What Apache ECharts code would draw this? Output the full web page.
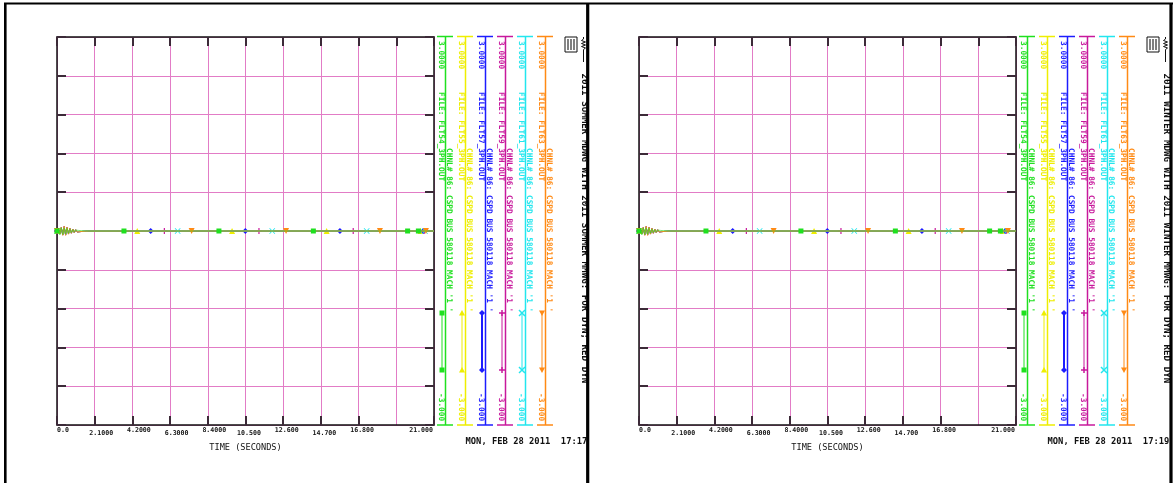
<!DOCTYPE html>
<html>
<head>
<meta charset="utf-8">
<script src="https://cdn.jsdelivr.net/npm/echarts@6/dist/echarts.min.js"></script>
<style>
html, body { margin: 0; padding: 0; background: #fff; }
#main { width: 1173px; height: 483px; }
</style>
</head>
<body>
<div id="main"></div>
<script>
// time axis (seconds): tick values and the printed labels
const timeTicks = [0, 2.1, 4.2, 6.3, 8.4, 10.5, 12.6, 14.7, 16.8, 18.9, 21];
const timeLabels = ['0.0', '2.1000', '4.2000', '6.3000', '8.4000', '10.500', '12.600', '14.700', '16.800', '18.900', '21.000'];
const chanMaxLabel = '3.0000';
const chanMinLabel = '-3.000';

// speed deviation just after the fault, sampled every 0.08 s
const oscTime = [0, 0.08, 0.16, 0.24, 0.32, 0.4, 0.48, 0.56, 0.64, 0.72, 0.8, 0.88, 0.96, 1.04, 1.12, 1.2, 1.28, 1.36, 1.44, 1.52, 1.6, 1.68, 1.76, 1.84];
const spd54 = [0, 0.045, -0.06, 0.05, -0.055, 0.048, -0.05, 0.042, -0.036, 0.03, -0.026, 0.021, -0.017, 0.014, -0.011, 0.009, -0.007, 0.005, -0.004, 0.003, -0.002, 0.001, -0.001, 0];
const spd55 = [0, 0.03, -0.045, 0.055, -0.06, 0.065, -0.06, 0.052, -0.045, 0.038, -0.032, 0.027, -0.022, 0.018, -0.015, 0.012, -0.009, 0.007, -0.005, 0.004, -0.003, 0.002, -0.001, 0];
const spd57 = [0, 0.032, -0.042, 0.052, -0.062, 0.068, -0.062, 0.055, -0.046, 0.04, -0.033, 0.028, -0.023, 0.019, -0.015, 0.012, -0.01, 0.008, -0.006, 0.004, -0.003, 0.002, -0.001, 0];
const spd59 = [0, 0.034, -0.044, 0.054, -0.064, 0.07, -0.064, 0.056, -0.047, 0.041, -0.034, 0.028, -0.023, 0.019, -0.016, 0.013, -0.01, 0.008, -0.006, 0.004, -0.003, 0.002, -0.001, 0];
const spd61 = [0, 0.028, -0.04, 0.05, -0.058, 0.064, -0.059, 0.051, -0.044, 0.037, -0.031, 0.026, -0.021, 0.017, -0.014, 0.011, -0.009, 0.007, -0.005, 0.004, -0.003, 0.002, -0.001, 0];
const spd63 = [0, 0.036, -0.046, 0.056, -0.066, 0.072, -0.066, 0.058, -0.049, 0.042, -0.035, 0.029, -0.024, 0.02, -0.016, 0.013, -0.01, 0.008, -0.006, 0.005, -0.003, 0.002, -0.001, 0];

// times where the plotter put a symbol on each curve (curve is flat at 0 there)
const mark54 = [0, 3.73, 9.02, 14.28, 19.53, 20.13];
const mark55 = [0, 4.47, 9.75, 15.02, 20.25];
const mark57 = [0, 5.22, 10.49, 15.76, 20.4];
const mark59 = [0, 5.98, 11.25, 16.5, 20.45];
const mark61 = [0, 6.72, 11.99, 17.25, 20.5];
const mark63 = [0, 7.5, 12.76, 17.99, 20.55];
const endTime = 21;

const files = ['FLT54_3PH.OUT', 'FLT55_3PH.OUT', 'FLT57_3PH.OUT', 'FLT59_3PH.OUT', 'FLT61_3PH.OUT', 'FLT63_3PH.OUT'];
const chnlText = "CHNL# 86: CSPD BUS 580118 MACH '1 '";
const titles = ['2011 SUMMER MDWG WITH 2011 SUMMER MMWG: FOR DYN; RED DYN',
                '2011 WINTER MDWG WITH 2011 WINTER MMWG: FOR DYN; RED DYN'];
const stamps = ['MON, FEB 28 2011  17:17', 'MON, FEB 28 2011  17:19'];

const chanVals = [spd54, spd55, spd57, spd59, spd61, spd63];
const chanMarks = [mark54, mark55, mark57, mark59, mark61, mark63];

// styles
const plusPath = 'path://M4,0h2v4h4v2h-4v4h-2v-4h-4v-2h4z';
const crossPath = 'path://M0,1L1,0L5,4L9,0L10,1L6,5L10,9L9,10L5,6L1,10L0,9L4,5z';
const chanStyle = [
    { color: '#1fe01f', symbol: 'rect', size: 5, rotate: 0, z: 9, lineOpacity: 0.6 },
    { color: '#eeee00', symbol: 'triangle', size: 6, rotate: 0, z: 3, lineOpacity: 1 },
    { color: '#1c1cff', symbol: 'diamond', size: 6, rotate: 0, z: 4, lineOpacity: 1 },
    { color: '#c8189c', symbol: plusPath, size: 6, rotate: 0, z: 5, lineOpacity: 1 },
    { color: '#22e6ee', symbol: crossPath, size: 6, rotate: 0, z: 6, lineOpacity: 1 },
    { color: '#ff8a14', symbol: 'triangle', size: 6, rotate: 180, z: 7, lineOpacity: 1 }
];
const mono = '"DejaVu Sans Mono", "Liberation Mono", monospace';
const gridColor = '#e27cc6';
const tickColor = '#3c2a38';
const panelLeft = [57, 639];
const panelDx = [0, 582];
const plotTop = 37, plotW = 377, plotH = 388;

let mainDiv = echarts.init(document.getElementById('main'));

function buildData(vals, marks, st) {
    let pts = oscTime.map((t, i) => ({ value: [t, vals[i]] }));
    let sym = { symbol: st.symbol, symbolSize: st.size, symbolRotate: st.rotate };
    marks.forEach(t => {
        if (t === 0) Object.assign(pts[0], sym);
        else pts.push(Object.assign({ value: [t, 0] }, sym));
    });
    pts.push({ value: [endTime, 0] });
    return pts;
}

let richBase = { fontFamily: mono, fontSize: 6.6, fontWeight: 'bold', color: '#111', lineHeight: 8 };
let rich = {
    f: Object.assign({}, richBase),
    l: Object.assign({ padding: [0, 1, 0, 0] }, richBase),
    e4: Object.assign({ padding: [0, 0, 0, 13] }, richBase),
    o4: Object.assign({ padding: [7, 0, 0, 13] }, richBase),
    e3: Object.assign({ padding: [0, 0, 0, 7] }, richBase),
    o3: Object.assign({ padding: [7, 0, 0, 7] }, richBase)
};

let grids = [], xAxes = [], yAxes = [], series = [];
panelLeft.forEach((left, pi) => {
    grids.push({ left: left, top: plotTop, width: plotW, height: plotH, containLabel: false });
    let line = { show: true, onZero: false, lineStyle: { color: '#111', width: 1.5 } };
    let tick = { show: true, inside: true, length: 9, lineStyle: { color: tickColor, width: 2 } };
    xAxes.push({
        type: 'value', gridIndex: pi, position: 'bottom', min: 0, max: 21, interval: 2.1,
        axisLine: line, axisTick: tick,
        splitLine: { show: true, lineStyle: { color: gridColor, width: 1 } },
        axisLabel: {
            show: true, margin: 1, showMinLabel: true, showMaxLabel: true,
            alignMinLabel: 'left', alignMaxLabel: 'right', rich: rich,
            formatter: function (v) {
                let i = timeTicks.findIndex(t => Math.abs(t - v) < 1e-6);
                if (i < 0) return '';
                let s = timeLabels[i];
                if (i === 0) return '{f|' + s + '}';
                if (i === timeTicks.length - 1) return '{l|' + s + '}';
                return '{' + (i % 2 ? 'o' : 'e') + (s.indexOf('.') === 1 ? '4' : '3') + '|' + s + '}';
            }
        },
        name: 'TIME (SECONDS)', nameLocation: 'middle', nameGap: 18,
        nameTextStyle: { fontFamily: mono, fontSize: 8.6, color: '#111' }
    });
    xAxes.push({
        type: 'value', gridIndex: pi, position: 'top', min: 0, max: 21, interval: 2.1,
        axisLine: line, axisTick: tick, splitLine: { show: false }, axisLabel: { show: false }
    });
    yAxes.push({
        type: 'value', gridIndex: pi, position: 'left', min: -3, max: 3, interval: 0.6,
        axisLine: line, axisTick: tick,
        splitLine: { show: true, lineStyle: { color: gridColor, width: 1 } },
        axisLabel: { show: false }
    });
    yAxes.push({
        type: 'value', gridIndex: pi, position: 'right', min: -3, max: 3, interval: 0.6,
        axisLine: line, axisTick: tick, splitLine: { show: false }, axisLabel: { show: false }
    });
    chanVals.forEach((vals, ci) => {
        let st = chanStyle[ci];
        series.push({
            type: 'line', xAxisIndex: pi * 2, yAxisIndex: pi * 2,
            data: buildData(vals, chanMarks[ci], st),
            symbol: 'none', showSymbol: true, silent: true, z: st.z,
            lineStyle: { color: st.color, width: 1, opacity: st.lineOpacity },
            itemStyle: { color: st.color }
        });
    });
});

// ---- decorations: channel scale columns, titles, frame ----
function seg(x1, y1, x2, y2, color, w) {
    return { type: 'line', silent: true, z: 50, shape: { x1: x1, y1: y1, x2: x2, y2: y2 }, style: { stroke: color, lineWidth: w } };
}
function vtext(x, y, str, color, size, weight) {
    return {
        type: 'text', x: x, y: y, rotation: -Math.PI / 2, silent: true, z: 50,
        style: { text: str, fill: color, font: (weight || 'bold') + ' ' + size + 'px ' + mono, textAlign: 'left', textVerticalAlign: 'middle' }
    };
}
function htext(x, y, str, color, size) {
    return {
        type: 'text', x: x, y: y, silent: true, z: 50,
        style: { text: str, fill: color, font: 'bold ' + size + 'px ' + mono, textAlign: 'left', textVerticalAlign: 'middle' }
    };
}
function legendMark(i, cx, cy, color) {
    let poly = pts => ({ type: 'polygon', silent: true, z: 51, shape: { points: pts }, style: { fill: color } });
    switch (i) {
        case 0: return [{ type: 'rect', silent: true, z: 51, shape: { x: cx - 2.5, y: cy - 2.5, width: 5, height: 5 }, style: { fill: color } }];
        case 1: return [poly([[cx, cy - 3], [cx + 3, cy + 2.5], [cx - 3, cy + 2.5]])];
        case 2: return [poly([[cx, cy - 3], [cx + 3, cy], [cx, cy + 3], [cx - 3, cy]])];
        case 3: return [seg(cx - 3, cy, cx + 3, cy, color, 1.5), seg(cx, cy - 3, cx, cy + 3, color, 1.5)];
        case 4: return [seg(cx - 3, cy - 3, cx + 3, cy + 3, color, 1.5), seg(cx - 3, cy + 3, cx + 3, cy - 3, color, 1.5)];
        default: return [poly([[cx, cy + 3], [cx + 3, cy - 2.5], [cx - 3, cy - 2.5]])];
    }
}

let els = [];
panelDx.forEach((dx, pi) => {
    chanStyle.forEach((c, i) => {
        let x = 445.5 + 20 * i + dx;
        els.push(seg(x, 36.5, x, 425, c.color, 1.5));
        els.push(seg(x - 8.5, 36.5, x + 7.5, 36.5, c.color, 1.5));
        els.push(seg(x - 8.5, 425, x + 7.5, 425, c.color, 1.5));
        els.push(vtext(x - 4, 41, chanMaxLabel, c.color, 7.8));
        els.push(vtext(x - 4, 92, 'FILE: ' + files[i], c.color, 7.8));
        els.push(vtext(x + 3.6, 148, chnlText, c.color, 7.8));
        els.push(vtext(x - 4, 393, chanMinLabel, c.color, 7.8));
        els.push(seg(x - 3.5, 313, x - 3.5, 370, c.color, i === 2 ? 2 : 1));
        els.push(...legendMark(i, x - 3.5, 313, c.color));
        els.push(...legendMark(i, x - 3.5, 370, c.color));
    });
    els.push(vtext(584 + dx, 73.5, titles[pi], '#111', 9.2));
    els.push(htext(465.5 + dx, 442, stamps[pi], '#111', 8.8));
    // PSS/E logo box and wave glyph
    els.push({ type: 'rect', silent: true, z: 50, shape: { x: 565 + dx, y: 37, width: 12, height: 15 }, style: { fill: '#fff', stroke: '#111', lineWidth: 1 } });
    [568, 571, 574].forEach(lx => els.push(seg(lx + dx, 39, lx + dx, 50, '#555', 1.5)));
    els.push({
        type: 'polyline', silent: true, z: 50,
        shape: { points: [[583.5, 37], [583.5, 39], [581.5, 40.5], [585.5, 42], [581.5, 43.5], [585.5, 45], [581.5, 46.5], [585.5, 48], [583.5, 49.5], [583.5, 62]].map(p => [p[0] + dx, p[1]]) },
        style: { stroke: '#111', lineWidth: 1, fill: null }
    });
});
// page frame
els.push(seg(5.3, 3, 5.3, 483, '#000', 2.6));
els.push(seg(4, 3.5, 1173, 3.5, '#000', 2));
els.push(seg(587.7, 3, 587.7, 483, '#000', 3.2));
els.push(seg(1171, 3, 1171, 483, '#000', 3.2));

mainDiv.setOption({
    animation: false,
    backgroundColor: '#fff',
    grid: grids,
    xAxis: xAxes,
    yAxis: yAxes,
    series: series,
    graphic: els
});
</script>
</body>
</html>
